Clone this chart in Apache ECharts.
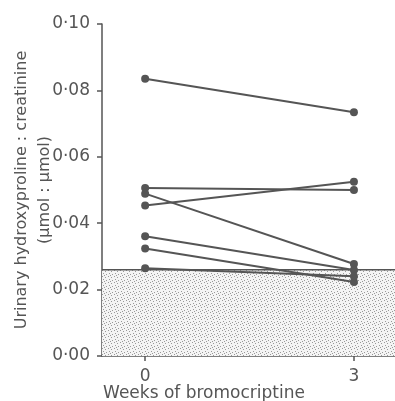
<!DOCTYPE html>
<html>
<head>
<meta charset="utf-8">
<script src="https://cdn.jsdelivr.net/npm/echarts@6/dist/echarts.min.js"></script>
<style>
  html, body { margin: 0; padding: 0; background: #fff; }
  #chart { width: 395px; height: 401px; }
</style>
</head>
<body>
<div id="chart"></div>
<script>
// weeks on bromocriptine
var weeks = [0, 3];
// one value per patient, before and after
var week0 = [0.0835, 0.0506, 0.0453, 0.0489, 0.0361, 0.0324, 0.0264];
var week3 = [0.0734, 0.0500, 0.0525, 0.0277, 0.0259, 0.0223, 0.0240];
// upper limit of the normal range (shaded)
var normalLimit = 0.026;

var xMin = -0.62, xMax = 3.59;
var ink = '#555';

// stipple for the normal range
var pat = document.createElement('canvas');
pat.width = 6; pat.height = 6;
var pc = pat.getContext('2d');
pc.fillStyle = '#f4f4f4';
pc.fillRect(0, 0, 6, 6);
pc.fillStyle = '#999';
[[0, 0], [3, 1], [1, 3], [4, 4], [2, 5]].forEach(function (d) {
  pc.fillRect(d[0], d[1], 1, 1);
});

var series = [{
  type: 'line',
  data: [[xMin, normalLimit], [xMax, normalLimit]],
  symbol: 'none',
  silent: true,
  lineStyle: { color: ink, width: 1.5 },
  areaStyle: { color: { image: pat, repeat: 'repeat' }, opacity: 1 },
  z: 1
}];
week0.forEach(function (v, i) {
  series.push({
    type: 'line',
    data: [[weeks[0], v], [weeks[1], week3[i]]],
    symbol: 'circle',
    symbolSize: 8,
    itemStyle: { color: ink },
    lineStyle: { color: ink, width: 2 },
    z: 3
  });
});

var option = {
  animation: false,
  textStyle: { fontFamily: 'DejaVu Sans' },
  grid: { left: 102, right: 0, top: 24, bottom: 45, outerBoundsMode: 'none', containLabel: false },
  xAxis: {
    type: 'value',
    min: xMin,
    max: xMax,
    splitLine: { show: false },
    axisLine: { onZero: false, lineStyle: { color: ink, width: 1.5 } },
    axisTick: { customValues: weeks, length: 5, lineStyle: { color: ink, width: 1.5 } },
    axisLabel: { customValues: weeks, color: ink, fontSize: 17, margin: 12 },
    name: 'Weeks of bromocriptine',
    nameLocation: 'middle',
    nameMoveOverlap: false,
    nameGap: 29,
    nameTextStyle: { color: ink, fontSize: 17, padding: [0, 0, 0, -89] }
  },
  yAxis: {
    type: 'value',
    min: 0,
    max: 0.1,
    interval: 0.02,
    splitLine: { show: false },
    axisLine: { show: true, onZero: false, lineStyle: { color: ink, width: 1.5 } },
    axisTick: { show: true, length: 5, lineStyle: { color: ink, width: 1.5 } },
    axisLabel: {
      color: ink,
      fontSize: 17,
      margin: 12,
      formatter: function (v) { return v.toFixed(2).replace('.', '·'); }
    },
    name: 'Urinary hydroxyproline : creatinine\n(µmol : µmol)',
    nameLocation: 'middle',
    nameMoveOverlap: false,
    nameRotate: 90,
    nameGap: 46,
    nameTextStyle: { color: ink, fontSize: 16, lineHeight: 23 }
  },
  series: series
};

var chart = echarts.init(document.getElementById('chart'));
chart.setOption(option);
</script>
</body>
</html>
